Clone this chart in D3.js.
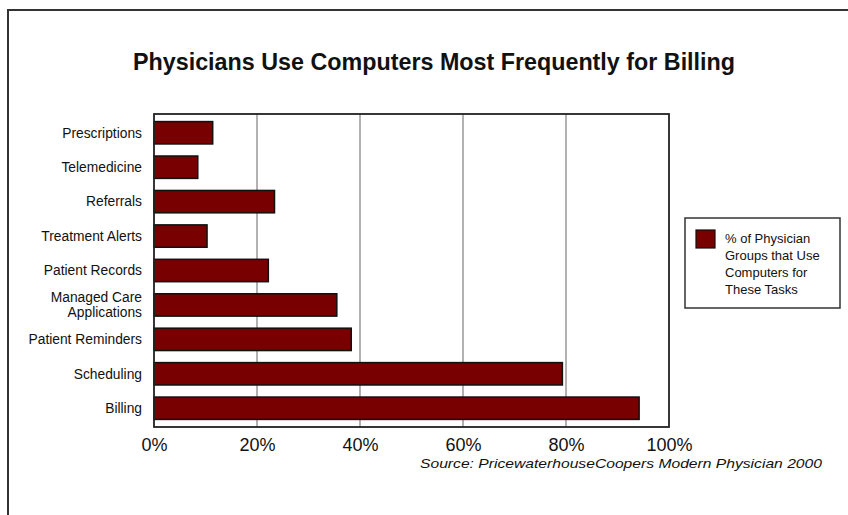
<!DOCTYPE html>
<html>
<head>
<meta charset="utf-8">
<script src="https://cdn.jsdelivr.net/npm/d3@7"></script>
<style>
  body { margin: 0; background: #fff; }
  svg { display: block; font-family: "Liberation Sans", Arial, sans-serif; }
  .cat-label { font-size: 13.8px; fill: #111; }
  .tick-label { font-size: 18px; fill: #111; }
  .legend-text { font-size: 13px; fill: #111; }
</style>
</head>
<body>
<div id="chart"></div>
<script>
// categories top to bottom
var categories = ["Prescriptions", "Telemedicine", "Referrals", "Treatment Alerts",
    "Patient Records", "Managed Care Applications", "Patient Reminders", "Scheduling", "Billing"];
// % of physician groups
var values = [11.4, 8.5, 23.4, 10.3, 22.2, 35.5, 38.3, 79.3, 94.2];
var xTicks = [0, 20, 40, 60, 80, 100];
var legendLines = ["% of Physician", "Groups that Use", "Computers for", "These Tasks"];

var W = 848, H = 515;
var margin = { top: 114, right: 179, bottom: 88, left: 154 };
var width = W - margin.left - margin.right,
    height = H - margin.top - margin.bottom;

var svg = d3.select("#chart").append("svg")
    .attr("width", W)
    .attr("height", H);

// outer frame (runs off the right and bottom)
svg.append("rect")
    .attr("x", 8).attr("y", 10)
    .attr("width", W + 20).attr("height", H + 20)
    .attr("fill", "none")
    .attr("stroke", "#333")
    .attr("stroke-width", 2);

svg.append("text")
    .attr("x", 434).attr("y", 70)
    .attr("text-anchor", "middle")
    .attr("font-size", 23)
    .attr("font-weight", "bold")
    .attr("textLength", 602)
    .attr("lengthAdjust", "spacingAndGlyphs")
    .attr("fill", "#111")
    .text("Physicians Use Computers Most Frequently for Billing");

var g = svg.append("g")
    .attr("transform", "translate(" + margin.left + "," + margin.top + ")");

var x = d3.scaleLinear().domain([0, 100]).range([0, width]);
var y = d3.scaleBand().domain(categories).range([0, height])
    .paddingInner(0.35).paddingOuter(0.22);

// gridlines
g.selectAll(".grid")
    .data(xTicks.slice(1, -1))
    .enter().append("line")
    .attr("class", "grid")
    .attr("x1", function(d) { return x(d); })
    .attr("x2", function(d) { return x(d); })
    .attr("y1", 0).attr("y2", height)
    .attr("stroke", "#999")
    .attr("stroke-width", 1.5);

// bars
g.selectAll(".bar")
    .data(values)
    .enter().append("rect")
    .attr("class", "bar")
    .attr("x", x(0))
    .attr("y", function(d, i) { return y(categories[i]); })
    .attr("width", function(d) { return x(d) - x(0); })
    .attr("height", y.bandwidth())
    .attr("fill", "#780000")
    .attr("stroke", "#111")
    .attr("stroke-width", 1.5);

// plot border
g.append("rect")
    .attr("width", width).attr("height", height)
    .attr("fill", "none")
    .attr("stroke", "#222")
    .attr("stroke-width", 1.8);

// category labels
var labels = g.selectAll(".cat-label")
    .data(categories)
    .enter().append("text")
    .attr("class", "cat-label")
    .attr("text-anchor", "end")
    .attr("x", -12)
    .attr("y", function(d) { return y(d) + y.bandwidth() / 2; });

labels.each(function(d) {
    var t = d3.select(this);
    var lines = d === "Managed Care Applications" ? ["Managed Care", "Applications"] : [d];
    lines.forEach(function(l, k) {
        t.append("tspan")
            .attr("x", -12)
            .attr("dy", k === 0 ? (0.35 - (lines.length - 1) * 0.55) + "em" : "1.1em")
            .text(l);
    });
});

// x axis labels
var xAxis = d3.axisBottom(x)
    .tickValues(xTicks)
    .tickSize(0)
    .tickPadding(11)
    .tickFormat(function(d) { return d + "%"; });

var ax = g.append("g")
    .attr("transform", "translate(0," + height + ")")
    .call(xAxis);
ax.select(".domain").remove();
ax.selectAll("text")
    .attr("class", "tick-label")
    .attr("font-family", null)
    .attr("font-size", null)
    .attr("fill", "#111");

// legend
var lg = svg.append("g").attr("transform", "translate(685,218)");
lg.append("rect")
    .attr("width", 155).attr("height", 90)
    .attr("fill", "#fff")
    .attr("stroke", "#333")
    .attr("stroke-width", 1.5);
lg.append("rect")
    .attr("x", 11).attr("y", 12)
    .attr("width", 19).attr("height", 18)
    .attr("fill", "#780000")
    .attr("stroke", "#111")
    .attr("stroke-width", 1.2);
lg.selectAll(".legend-text")
    .data(legendLines)
    .enter().append("text")
    .attr("class", "legend-text")
    .attr("x", 40)
    .attr("y", function(d, i) { return 25 + i * 17; })
    .text(function(d) { return d; });

// source
svg.append("text")
    .attr("x", 822).attr("y", 468)
    .attr("text-anchor", "end")
    .attr("font-size", 13.5)
    .attr("font-style", "italic")
    .attr("textLength", 402)
    .attr("lengthAdjust", "spacingAndGlyphs")
    .attr("fill", "#111")
    .text("Source: PricewaterhouseCoopers Modern Physician 2000");
</script>
</body>
</html>
